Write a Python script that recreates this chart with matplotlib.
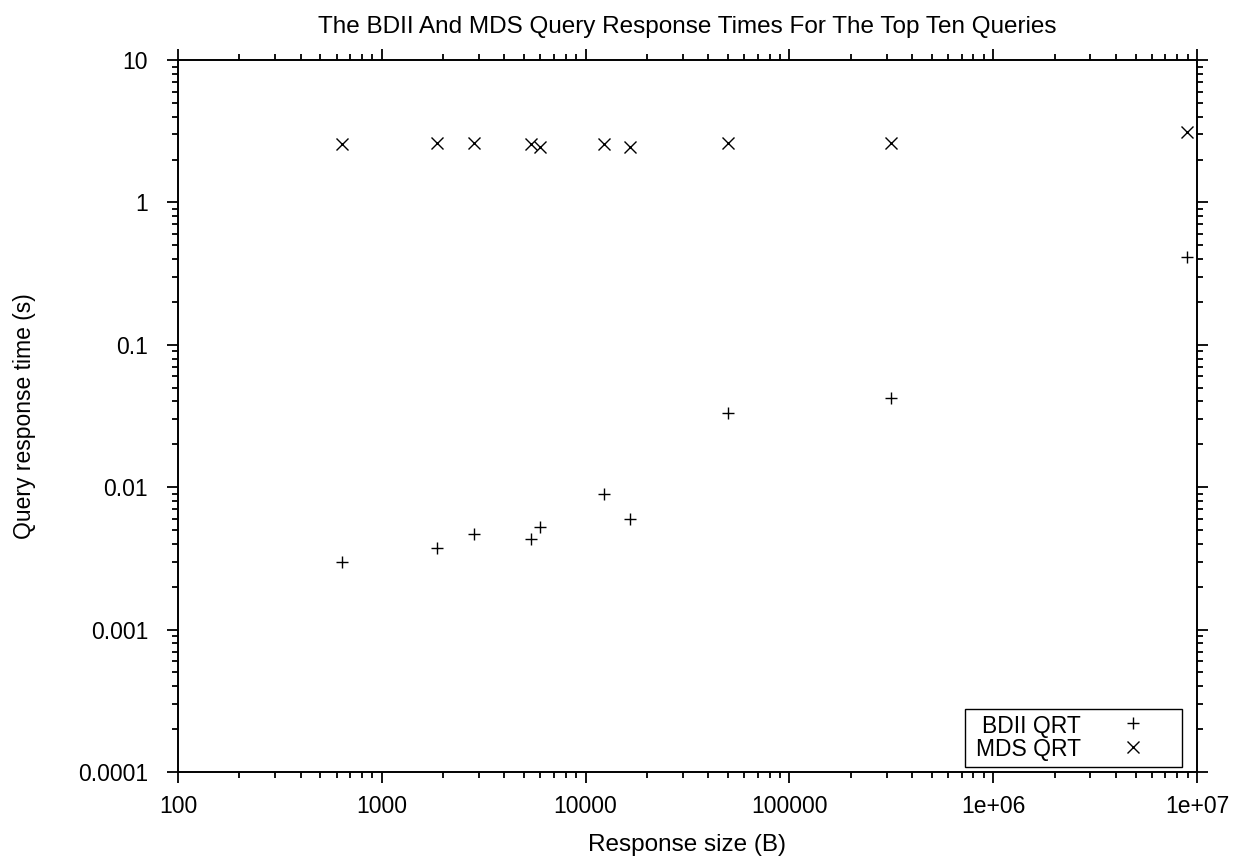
import matplotlib
matplotlib.use("Agg")
import matplotlib.pyplot as plt
from matplotlib.lines import Line2D
from matplotlib.patches import Rectangle
from matplotlib.ticker import FixedLocator, FixedFormatter, LogLocator, NullFormatter

plt.rcParams['font.family'] = ['Liberation Sans', 'DejaVu Sans']

response_size = [640, 1872, 2844, 5400, 5995, 12310, 16570, 50000, 315000, 8.93e6]
bdii_qrt = [0.0030, 0.00376, 0.00469, 0.00435, 0.00528, 0.0090, 0.00595, 0.0332, 0.0425, 0.412]
mds_qrt = [2.57, 2.63, 2.63, 2.57, 2.46, 2.57, 2.46, 2.63, 2.61, 3.14]

x_ticks = [100, 1000, 10000, 100000, 1e6, 1e7]
x_tick_labels = ["100", "1000", "10000", "100000", "1e+06", "1e+07"]
y_ticks = [0.0001, 0.001, 0.01, 0.1, 1, 10]
y_tick_labels = ["0.0001", "0.001", "0.01", "0.1", "1", "10"]
series_names = ["BDII QRT", "MDS QRT"]

W, H = 1236, 856
fig = plt.figure(figsize=(W / 100, H / 100), dpi=100)
ax = fig.add_axes([178 / W, 1 - 772 / H, (1197 - 178) / W, (772 - 60) / H])

ax.plot(response_size, bdii_qrt, linestyle='none', marker='+', markersize=9,
        markeredgewidth=1.0, color='black')
ax.plot(response_size, mds_qrt, linestyle='none', marker='x', markersize=8.0,
        markeredgewidth=1.0, color='black')

ax.set_xscale('log')
ax.set_yscale('log')
ax.set_xlim(100, 1e7)
ax.set_ylim(1e-4, 10)

ax.xaxis.set_major_locator(FixedLocator(x_ticks))
ax.xaxis.set_major_formatter(FixedFormatter(x_tick_labels))
ax.yaxis.set_major_locator(FixedLocator(y_ticks))
ax.yaxis.set_major_formatter(FixedFormatter(y_tick_labels))
ax.xaxis.set_minor_locator(LogLocator(base=10, subs=range(2, 10), numticks=20))
ax.yaxis.set_minor_locator(LogLocator(base=10, subs=range(2, 10), numticks=20))
ax.xaxis.set_minor_formatter(NullFormatter())
ax.yaxis.set_minor_formatter(NullFormatter())

ax.tick_params(which='both', direction='out', top=True, right=True,
               labelsize=16.5, width=1.3, colors='black')
ax.tick_params(which='major', length=8)
ax.tick_params(which='minor', length=4)
ax.tick_params(axis='x', which='major', pad=8.5)
ax.tick_params(axis='y', which='major', pad=13.5)
for s in ax.spines.values():
    s.set_linewidth(1.4)

ax.set_xlabel('Response size (B)', fontsize=17.5, va='baseline')
ax.xaxis.set_label_coords(0.5, (772 - 851) / 712)
ax.set_ylabel('Query response time (s)', fontsize=16.5, va='center', ha='center')
ax.yaxis.set_label_coords((25 - 178) / 1019, 0.5)
ax.set_title('The BDII And MDS Query Response Times For The Top Ten Queries',
             fontsize=17.5, pad=19.5)

# gnuplot-style key: right-aligned labels, sample marker to the right
def fx(px):
    return px / W

def fy(py):
    return 1 - py / H

fig.add_artist(Rectangle((fx(965), fy(767)), fx(1182) - fx(965), fy(709) - fy(767),
                         transform=fig.transFigure, fill=False, edgecolor='black',
                         linewidth=1.0))
key_markers = ['+', 'x']
key_sizes = [9, 8.0]
text_baselines = [733, 756]
marker_rows = [723, 747]
for name, mk, ms, tb, mr in zip(series_names, key_markers, key_sizes, text_baselines, marker_rows):
    fig.text(fx(1081), fy(tb), name, ha='right', va='baseline', fontsize=16.5)
    fig.add_artist(Line2D([fx(1133)], [fy(mr)], marker=mk, markersize=ms,
                          markeredgewidth=1.0, color='black', linestyle='none',
                          transform=fig.transFigure))

fig.savefig('out.png', dpi=100)
